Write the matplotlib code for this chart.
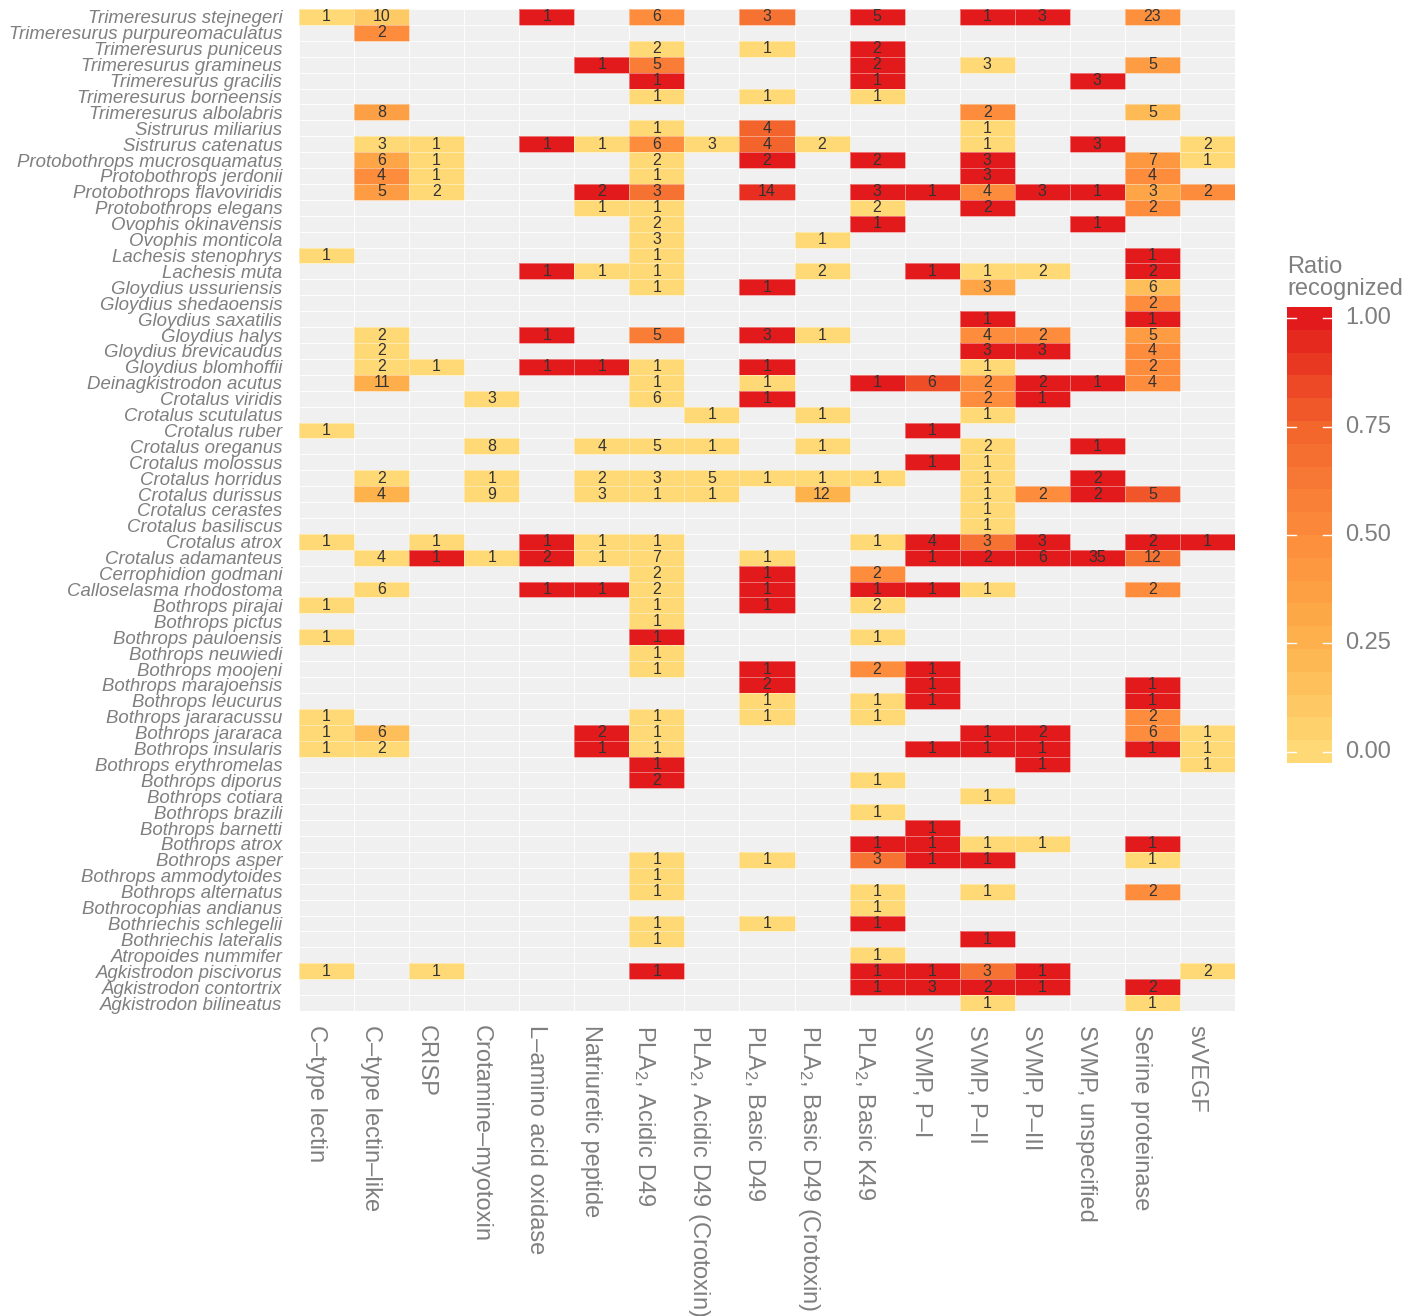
import numpy as np
import matplotlib
matplotlib.use("Agg")
import matplotlib.pyplot as plt
from matplotlib.colors import LinearSegmentedColormap

plt.rcParams['font.family'] = ['Liberation Sans', 'DejaVu Sans']
plt.rcParams['mathtext.default'] = 'regular'

# species, top to bottom
species = [
    "Trimeresurus stejnegeri", "Trimeresurus purpureomaculatus", "Trimeresurus puniceus",
    "Trimeresurus gramineus", "Trimeresurus gracilis", "Trimeresurus borneensis",
    "Trimeresurus albolabris", "Sistrurus miliarius", "Sistrurus catenatus",
    "Protobothrops mucrosquamatus", "Protobothrops jerdonii", "Protobothrops flavoviridis",
    "Protobothrops elegans", "Ovophis okinavensis", "Ovophis monticola",
    "Lachesis stenophrys", "Lachesis muta", "Gloydius ussuriensis", "Gloydius shedaoensis",
    "Gloydius saxatilis", "Gloydius halys", "Gloydius brevicaudus", "Gloydius blomhoffii",
    "Deinagkistrodon acutus", "Crotalus viridis", "Crotalus scutulatus", "Crotalus ruber",
    "Crotalus oreganus", "Crotalus molossus", "Crotalus horridus", "Crotalus durissus",
    "Crotalus cerastes", "Crotalus basiliscus", "Crotalus atrox", "Crotalus adamanteus",
    "Cerrophidion godmani", "Calloselasma rhodostoma", "Bothrops pirajai", "Bothrops pictus",
    "Bothrops pauloensis", "Bothrops neuwiedi", "Bothrops moojeni", "Bothrops marajoensis",
    "Bothrops leucurus", "Bothrops jararacussu", "Bothrops jararaca", "Bothrops insularis",
    "Bothrops erythromelas", "Bothrops diporus", "Bothrops cotiara", "Bothrops brazili",
    "Bothrops barnetti", "Bothrops atrox", "Bothrops asper", "Bothrops ammodytoides",
    "Bothrops alternatus", "Bothrocophias andianus", "Bothriechis schlegelii",
    "Bothriechis lateralis", "Atropoides nummifer", "Agkistrodon piscivorus",
    "Agkistrodon contortrix", "Agkistrodon bilineatus",
]

toxins = [
    "C\u2013type lectin", "C\u2013type lectin\u2013like", "CRISP", "Crotamine\u2013myotoxin",
    "L\u2013amino acid oxidase", "Natriuretic peptide", r"PLA$_2$, Acidic D49",
    r"PLA$_2$, Acidic D49 (Crotoxin)", r"PLA$_2$, Basic D49",
    r"PLA$_2$, Basic D49 (Crotoxin)", r"PLA$_2$, Basic K49", "SVMP, P\u2013I",
    "SVMP, P\u2013II", "SVMP, P\u2013III", "SVMP, unspecified", "Serine proteinase", "svVEGF",
]

# number of proteins per cell ('.' = none)
counts = [
    "1 10 . . 1 . 6 . 3 . 5 . 1 3 . 23 .",
    ". 2 . . . . . . . . . . . . . . .",
    ". . . . . . 2 . 1 . 2 . . . . . .",
    ". . . . . 1 5 . . . 2 . 3 . . 5 .",
    ". . . . . . 1 . . . 1 . . . 3 . .",
    ". . . . . . 1 . 1 . 1 . . . . . .",
    ". 8 . . . . . . . . . . 2 . . 5 .",
    ". . . . . . 1 . 4 . . . 1 . . . .",
    ". 3 1 . 1 1 6 3 4 2 . . 1 . 3 . 2",
    ". 6 1 . . . 2 . 2 . 2 . 3 . . 7 1",
    ". 4 1 . . . 1 . . . . . 3 . . 4 .",
    ". 5 2 . . 2 3 . 14 . 3 1 4 3 1 3 2",
    ". . . . . 1 1 . . . 2 . 2 . . 2 .",
    ". . . . . . 2 . . . 1 . . . 1 . .",
    ". . . . . . 3 . . 1 . . . . . . .",
    "1 . . . . . 1 . . . . . . . . 1 .",
    ". . . . 1 1 1 . . 2 . 1 1 2 . 2 .",
    ". . . . . . 1 . 1 . . . 3 . . 6 .",
    ". . . . . . . . . . . . . . . 2 .",
    ". . . . . . . . . . . . 1 . . 1 .",
    ". 2 . . 1 . 5 . 3 1 . . 4 2 . 5 .",
    ". 2 . . . . . . . . . . 3 3 . 4 .",
    ". 2 1 . 1 1 1 . 1 . . . 1 . . 2 .",
    ". 11 . . . . 1 . 1 . 1 6 2 2 1 4 .",
    ". . . 3 . . 6 . 1 . . . 2 1 . . .",
    ". . . . . . . 1 . 1 . . 1 . . . .",
    "1 . . . . . . . . . . 1 . . . . .",
    ". . . 8 . 4 5 1 . 1 . . 2 . 1 . .",
    ". . . . . . . . . . . 1 1 . . . .",
    ". 2 . 1 . 2 3 5 1 1 1 . 1 . 2 . .",
    ". 4 . 9 . 3 1 1 . 12 . . 1 2 2 5 .",
    ". . . . . . . . . . . . 1 . . . .",
    ". . . . . . . . . . . . 1 . . . .",
    "1 . 1 . 1 1 1 . . . 1 4 3 3 . 2 1",
    ". 4 1 1 2 1 7 . 1 . . 1 2 6 35 12 .",
    ". . . . . . 2 . 1 . 2 . . . . . .",
    ". 6 . . 1 1 2 . 1 . 1 1 1 . . 2 .",
    "1 . . . . . 1 . 1 . 2 . . . . . .",
    ". . . . . . 1 . . . . . . . . . .",
    "1 . . . . . 1 . . . 1 . . . . . .",
    ". . . . . . 1 . . . . . . . . . .",
    ". . . . . . 1 . 1 . 2 1 . . . . .",
    ". . . . . . . . 2 . . 1 . . . 1 .",
    ". . . . . . . . 1 . 1 1 . . . 1 .",
    "1 . . . . . 1 . 1 . 1 . . . . 2 .",
    "1 6 . . . 2 1 . . . . . 1 2 . 6 1",
    "1 2 . . . 1 1 . . . . 1 1 1 . 1 1",
    ". . . . . . 1 . . . . . . 1 . . 1",
    ". . . . . . 2 . . . 1 . . . . . .",
    ". . . . . . . . . . . . 1 . . . .",
    ". . . . . . . . . . 1 . . . . . .",
    ". . . . . . . . . . . 1 . . . . .",
    ". . . . . . . . . . 1 1 1 1 . 1 .",
    ". . . . . . 1 . 1 . 3 1 1 . . 1 .",
    ". . . . . . 1 . . . . . . . . . .",
    ". . . . . . 1 . . . 1 . 1 . . 2 .",
    ". . . . . . . . . . 1 . . . . . .",
    ". . . . . . 1 . 1 . 1 . . . . . .",
    ". . . . . . 1 . . . . . 1 . . . .",
    ". . . . . . . . . . 1 . . . . . .",
    "1 . 1 . . . 1 . . . 1 1 3 1 . . 2",
    ". . . . . . . . . . 1 3 2 1 . 2 .",
    ". . . . . . . . . . . . 1 . . 1 .",
]

# ratio recognized per cell
ratios = [
    "0 .1 . . 1 . .5 . .67 . 1 . 1 1 . .48 .",
    ". .5 . . . . . . . . . . . . . . .",
    ". . . . . . 0 . 0 . 1 . . . . . .",
    ". . . . . 1 .6 . . . 1 . 0 . . .4 .",
    ". . . . . . 1 . . . 1 . . . 1 . .",
    ". . . . . . 0 . 0 . 0 . . . . . .",
    ". .38 . . . . . . . . . . .5 . . .2 .",
    ". . . . . . 0 . .75 . . . 0 . . . .",
    ". 0 0 . 1 0 .5 0 .75 0 . . 0 . 1 . 0",
    ". .33 0 . . . 0 . 1 . 1 . 1 . . .43 0",
    ". .5 0 . . . 0 . . . . . 1 . . .5 .",
    ". .4 0 . . 1 .67 . .93 . 1 1 .5 1 1 .33 .5",
    ". . . . . 0 0 . . . 0 . 1 . . .5 .",
    ". . . . . . 0 . . . 1 . . . 1 . .",
    ". . . . . . 0 . . 0 . . . . . . .",
    "0 . . . . . 0 . . . . . . . . 1 .",
    ". . . . 1 0 0 . . 0 . 1 0 0 . 1 .",
    ". . . . . . 0 . 1 . . . .33 . . .17 .",
    ". . . . . . . . . . . . . . . .5 .",
    ". . . . . . . . . . . . 1 . . 1 .",
    ". 0 . . 1 . .6 . 1 0 . . .5 .5 . .4 .",
    ". 0 . . . . . . . . . . 1 1 . .5 .",
    ". 0 0 . 1 1 0 . 1 . . . 0 . . .5 .",
    ". .27 . . . . 0 . 0 . 1 .83 .5 1 1 .5 .",
    ". . . 0 . . 0 . 1 . . . .5 1 . . .",
    ". . . . . . . 0 . 0 . . 0 . . . .",
    "0 . . . . . . . . . . 1 . . . . .",
    ". . . 0 . 0 0 0 . 0 . . 0 . 1 . .",
    ". . . . . . . . . . . 1 0 . . . .",
    ". 0 . 0 . 0 0 0 0 0 0 . 0 . 1 . .",
    ". .25 . 0 . 0 0 0 . .25 . . 0 .5 1 .8 .",
    ". . . . . . . . . . . . 0 . . . .",
    ". . . . . . . . . . . . 0 . . . .",
    "0 . 0 . 1 0 0 . . . 0 1 .67 1 . 1 1",
    ". 0 1 0 1 0 0 . 0 . . 1 1 1 1 .67 .",
    ". . . . . . 0 . 1 . .5 . . . . . .",
    ". 0 . . 1 1 0 . 1 . 1 1 0 . . .5 .",
    "0 . . . . . 0 . 1 . 0 . . . . . .",
    ". . . . . . 0 . . . . . . . . . .",
    "0 . . . . . 1 . . . 0 . . . . . .",
    ". . . . . . 0 . . . . . . . . . .",
    ". . . . . . 0 . 1 . .5 1 . . . . .",
    ". . . . . . . . 1 . . 1 . . . 1 .",
    ". . . . . . . . 0 . 0 1 . . . 1 .",
    "0 . . . . . 0 . 0 . 0 . . . . .5 .",
    "0 .17 . . . 1 0 . . . . . 1 1 . .5 0",
    "0 0 . . . 1 0 . . . . 1 1 1 . 1 0",
    ". . . . . . 1 . . . . . . 1 . . 0",
    ". . . . . . 1 . . . 0 . . . . . .",
    ". . . . . . . . . . . . 0 . . . .",
    ". . . . . . . . . . 0 . . . . . .",
    ". . . . . . . . . . . 1 . . . . .",
    ". . . . . . . . . . 1 1 0 0 . 1 .",
    ". . . . . . 0 . 0 . .67 1 1 . . 0 .",
    ". . . . . . 0 . . . . . . . . . .",
    ". . . . . . 0 . . . 0 . 0 . . .5 .",
    ". . . . . . . . . . 0 . . . . . .",
    ". . . . . . 0 . 0 . 1 . . . . . .",
    ". . . . . . 0 . . . . . 1 . . . .",
    ". . . . . . . . . . 0 . . . . . .",
    "0 . 0 . . . 1 . . . 1 1 .67 1 . . 0",
    ". . . . . . . . . . 1 1 1 1 . 1 .",
    ". . . . . . . . . . . . 0 . . 0 .",
]

legend_ticks = [0, 0.25, 0.5, 0.75, 1.0]


def parse(rows):
    out = []
    for r in rows:
        toks = r.split()
        assert len(toks) == len(toxins), r
        out.append([np.nan if t == "." else float(t) for t in toks])
    return np.array(out)


cnt = parse(counts)
rat = parse(ratios)
nrow, ncol = rat.shape

cmap = LinearSegmentedColormap.from_list(
    "ratio", [(0, "#FED976"), (0.25, "#FEB24C"), (0.5, "#FD8D3C"),
              (0.75, "#F3652D"), (1, "#E31A1C")])
grey_txt = "#7f7f7f"

fig = plt.figure(figsize=(14.21, 13.16), dpi=100)
ax = fig.add_axes([299 / 1421, 1 - 1011 / 1316, 936 / 1421, 1002 / 1316])
ax.set_facecolor("#F0F0F0")

# thin white grid between tiles
for i in range(nrow + 1):
    ax.axhline(i, color="white", lw=0.6, zorder=1)
for j in range(ncol + 1):
    ax.axvline(j, color="white", lw=0.6, zorder=1)

ax.pcolormesh(np.arange(ncol + 1), np.arange(nrow + 1), np.ma.masked_invalid(rat),
              cmap=cmap, vmin=0, vmax=1, edgecolors=(1, 1, 1, 0.4), linewidth=0.7,
              zorder=2)

for i in range(nrow):
    for j in range(ncol):
        if not np.isnan(cnt[i, j]):
            ax.text(j + 0.5, i + 0.5, "%d" % cnt[i, j], ha="center", va="center",
                    fontsize=11.5, color="#333333", zorder=3)

ax.set_xlim(0, ncol)
ax.set_ylim(nrow, 0)
for s in ax.spines.values():
    s.set_visible(False)

ax.set_yticks(np.arange(nrow) + 0.5)
ax.set_yticklabels(species, fontsize=13.4, style="italic", color=grey_txt)
ax.set_xticks(np.arange(ncol) + 0.5)
ax.set_xticklabels(toxins, rotation=270, fontsize=17, color=grey_txt,
                   ha="right", va="top")
ax.tick_params(length=0)
ax.tick_params(axis="y", pad=12)
ax.tick_params(axis="x", pad=10)

# legend colourbar (binned like the reference)
nb = 20
cax = fig.add_axes([1287 / 1421, 1 - 763 / 1316, 45 / 1421, 456 / 1316])
half = 0.5 / (nb - 1)
cax.imshow(np.linspace(0, 1, nb)[:, None], cmap=cmap, vmin=0, vmax=1, origin="lower",
           aspect="auto", extent=[0, 1, -half, 1 + half])
cax.set_xlim(0, 1)
cax.set_ylim(-half, 1 + half)
for v in legend_ticks:
    cax.plot([0, 0.2], [v, v], color="white", lw=1)
    cax.plot([0.8, 1], [v, v], color="white", lw=1)
    cax.text(1.3, v, "%.2f" % v, va="center", ha="left", fontsize=17, color=grey_txt)
cax.axis("off")
fig.text(1287 / 1421, 1 - 256 / 1316, "Ratio\nrecognized", ha="left", va="top",
         fontsize=17, color=grey_txt, linespacing=1.0)

fig.savefig("out.png", dpi=100)
